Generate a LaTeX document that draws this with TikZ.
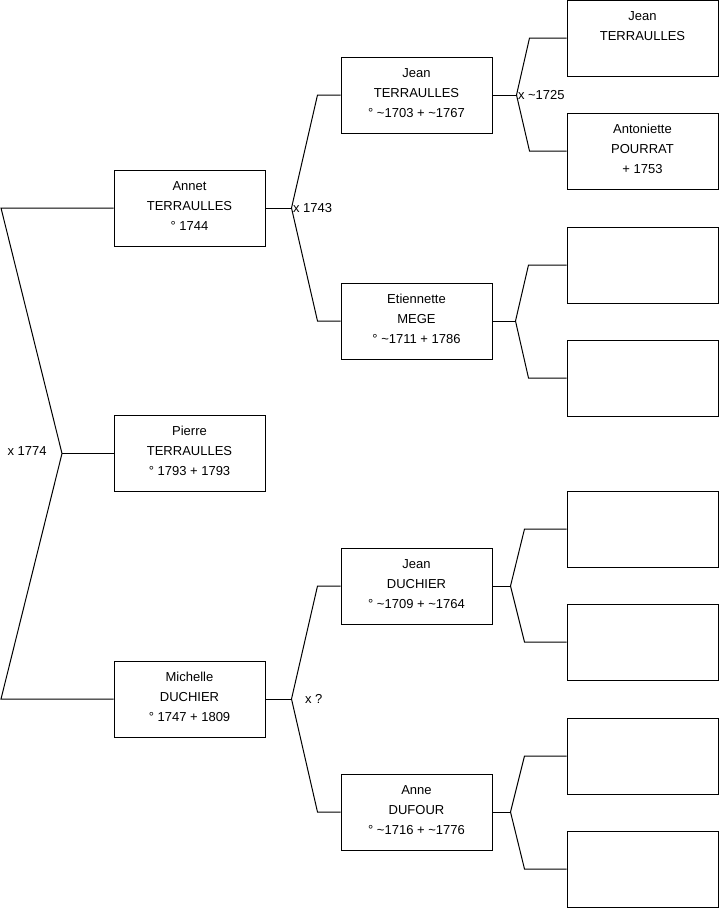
\documentclass[tikz,border=0pt]{standalone}
\usepackage{fontspec}
\setmainfont{Liberation Sans}
\begin{document}
\begin{tikzpicture}[x=1pt,y=-1pt,
  line width=1pt,
  pbox/.style={draw=black, fill=white, minimum width=151pt, minimum height=76pt, inner sep=0pt},
  ptext/.style={anchor=base, align=center, inner sep=0pt, font=\fontsize{13}{20}\selectfont},
  lbl/.style={anchor=west, inner sep=0pt, font=\fontsize{13}{16}\selectfont},
  link/.style={draw=black}]
\useasboundingbox (0,0) rectangle (719,908);

% level 1
\node[pbox] (annet) at (189.5,208) {};
\node[pbox] (pierre) at (189.5,453.5) {};
\node[pbox] (michelle) at (189.5,699) {};
% level 2
\node[pbox] (jeanT) at (416.5,95) {};
\node[pbox] (etien) at (416.5,321) {};
\node[pbox] (jeanD) at (416.5,586) {};
\node[pbox] (anne) at (416.5,812) {};
% level 3
\node[pbox] (p1) at (642.5,38) {};
\node[pbox] (p2) at (642.5,151) {};
\node[pbox] (p3) at (642.5,265) {};
\node[pbox] (p4) at (642.5,378) {};
\node[pbox] (p5) at (642.5,529) {};
\node[pbox] (p6) at (642.5,642) {};
\node[pbox] (p7) at (642.5,756) {};
\node[pbox] (p8) at (642.5,869) {};

% texts (base anchor = baseline of the last line)
\node[ptext] (tannet) at ([yshift=-60.6pt]annet.north) {Annet\\TERRAULLES\\° 1744};
\node[ptext] (tpierre) at ([yshift=-60.6pt]pierre.north) {Pierre\\TERRAULLES\\° 1793 + 1793};
\node[ptext] (tmich) at ([yshift=-60.6pt]michelle.north) {Michelle\\DUCHIER\\° 1747 + 1809};
\node[ptext] (tjeanT) at ([yshift=-60.6pt]jeanT.north) {Jean\\TERRAULLES\\° \textasciitilde1703 + \textasciitilde1767};
\node[ptext] (tetien) at ([yshift=-60.6pt]etien.north) {Etiennette\\MEGE\\° \textasciitilde1711 + 1786};
\node[ptext] (tjeanD) at ([yshift=-60.6pt]jeanD.north) {Jean\\DUCHIER\\° \textasciitilde1709 + \textasciitilde1764};
\node[ptext] (tanne) at ([yshift=-60.6pt]anne.north) {Anne\\DUFOUR\\° \textasciitilde1716 + \textasciitilde1776};
\node[ptext] (tp1) at ([yshift=-40.6pt]p1.north) {Jean\\TERRAULLES};
\node[ptext] (tp2) at ([yshift=-60.6pt]p2.north) {Antoniette\\POURRAT\\+ 1753};

% junction coordinates
\coordinate (r) at (62,453.5);
\coordinate (rtop) at (1,208);
\coordinate (rbot) at (1,699);
\coordinate (va) at ([xshift=26pt]annet.east);
\coordinate (vm) at ([xshift=26pt]michelle.east);
\coordinate (vjt) at ([xshift=24pt]jeanT.east);
\coordinate (ve) at ([xshift=23pt]etien.east);
\coordinate (vjd) at ([xshift=18pt]jeanD.east);
\coordinate (van) at ([xshift=18pt]anne.east);

% connectors
\draw[link] (annet.west) -- (rtop) -- (r) -- (rbot) -- (michelle.west);
\draw[link] (r) -- (pierre.west);

\draw[link] (annet.east) -- (va);
\draw[link] (va) -- ([xshift=-23pt]jeanT.west) -- (jeanT.west);
\draw[link] (va) -- ([xshift=-23pt]etien.west) -- (etien.west);

\draw[link] (michelle.east) -- (vm);
\draw[link] (vm) -- ([xshift=-23pt]jeanD.west) -- (jeanD.west);
\draw[link] (vm) -- ([xshift=-23pt]anne.west) -- (anne.west);

\draw[link] (jeanT.east) -- (vjt);
\draw[link] (vjt) -- ([xshift=-37pt]p1.west) -- (p1.west);
\draw[link] (vjt) -- ([xshift=-37pt]p2.west) -- (p2.west);

\draw[link] (etien.east) -- (ve);
\draw[link] (ve) -- ([xshift=-38pt]p3.west) -- (p3.west);
\draw[link] (ve) -- ([xshift=-38pt]p4.west) -- (p4.west);

\draw[link] (jeanD.east) -- (vjd);
\draw[link] (vjd) -- ([xshift=-42pt]p5.west) -- (p5.west);
\draw[link] (vjd) -- ([xshift=-42pt]p6.west) -- (p6.west);

\draw[link] (anne.east) -- (van);
\draw[link] (van) -- ([xshift=-42pt]p7.west) -- (p7.west);
\draw[link] (van) -- ([xshift=-42pt]p8.west) -- (p8.west);

% marriage labels
\node[lbl] (m1) at (7,451) {x 1774};
\node[lbl] (m2) at ([xshift=1pt]va) {x 1743};
\node[lbl] (m3) at ([xshift=1pt]vjt) {x \textasciitilde1725};
\node[lbl] (m4) at ([xshift=13pt]vm) {x ?};
\end{tikzpicture}
\end{document}
